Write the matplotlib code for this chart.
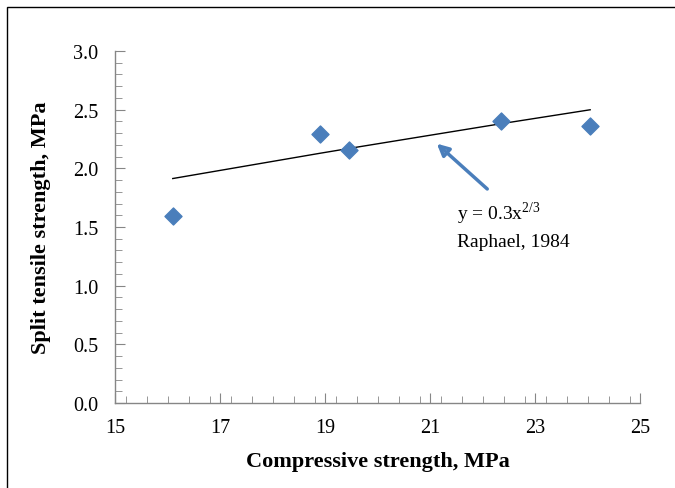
import matplotlib
matplotlib.use('Agg')
import matplotlib.pyplot as plt
from matplotlib.ticker import MultipleLocator
from matplotlib.patches import Rectangle

# Measured data
comp_strength = [16.1, 18.9, 19.45, 22.35, 24.05]
split_strength = [1.59, 2.29, 2.16, 2.40, 2.36]

# Raphael (1984) model y = 0.3x^(2/3) at the measured strengths
model_x = [16.1, 18.9, 19.45, 22.35, 24.05]
model_y = [1.913, 2.128, 2.169, 2.380, 2.499]

x_ticks = [15, 17, 19, 21, 23, 25]
y_ticks = [0.0, 0.5, 1.0, 1.5, 2.0, 2.5, 3.0]

plt.rcParams['font.family'] = ['Liberation Serif', 'DejaVu Serif']
plt.rcParams['mathtext.fontset'] = 'custom'
plt.rcParams['mathtext.rm'] = 'Liberation Serif'

fig = plt.figure(figsize=(6.75, 4.89), dpi=100)
ax = fig.add_axes([0.1704, 0.1738, 0.7778, 0.7199])

# Outer frame (left and top edges visible)
fig.patches.append(Rectangle((0.011, -0.05), 1.1, 1.034, transform=fig.transFigure,
                             fill=False, edgecolor='black', linewidth=1.0))

ax.plot(model_x, model_y, color='black', linewidth=1.0, zorder=2)
ax.scatter(comp_strength, split_strength, marker='D', s=75, color='#4a7ebb',
           edgecolors='#4a7ebb', zorder=3)

ax.annotate('', xy=(21.13, 2.21), xytext=(22.09, 1.824),
            arrowprops=dict(arrowstyle='-|>,head_length=0.7,head_width=0.35',
                            color='#4a7ebb', linewidth=2.5, shrinkA=0, shrinkB=0,
                            fill=False))
ax.text(21.51, 1.62, r'y = 0.3x$^{\mathrm{2/3}}$', fontsize=14, ha='left', va='center')
ax.text(21.51, 1.38, 'Raphael, 1984', fontsize=14, ha='left', va='center')

ax.set_xlim(15, 25)
ax.set_ylim(0, 3.0)
ax.set_xticks(x_ticks)
ax.set_yticks(y_ticks)
ax.set_yticklabels([f'{v:.1f}' for v in y_ticks])
ax.xaxis.set_minor_locator(MultipleLocator(0.4))
ax.yaxis.set_minor_locator(MultipleLocator(0.1))

for side in ['top', 'right']:
    ax.spines[side].set_visible(False)
for side in ['left', 'bottom']:
    ax.spines[side].set_color('#868686')
    ax.spines[side].set_linewidth(1.0)

ax.tick_params(which='major', direction='in', length=7, color='#868686',
               labelsize=14.5)
ax.tick_params(axis='x', which='major', pad=11)
ax.tick_params(axis='y', which='major', pad=12)
ax.tick_params(which='minor', direction='in', length=5, color='#868686')

ax.set_xlabel('Compressive strength, MPa', fontsize=16, fontweight='bold', labelpad=10)
ax.set_ylabel('Split tensile strength, MPa', fontsize=16, fontweight='bold', labelpad=16)

fig.savefig('out.png', dpi=100)
